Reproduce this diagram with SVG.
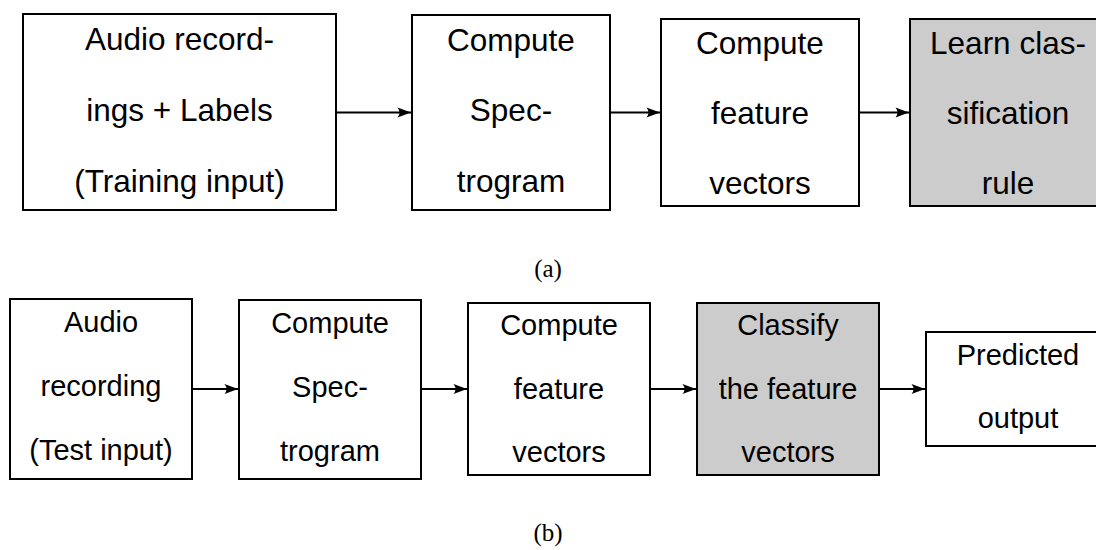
<svg xmlns="http://www.w3.org/2000/svg" width="1096" height="550" viewBox="0 0 1096 550">
<style>
.box{fill:#ffffff;stroke:#000;stroke-width:2}
.gray{fill:#cccccc;stroke:#000;stroke-width:2}
.t{font-family:"Liberation Sans",Arial,sans-serif;font-size:31.5px;text-anchor:middle;fill:#000}
.s{font-family:"Liberation Sans",Arial,sans-serif;font-size:29px;text-anchor:middle;fill:#000}
.cap{font-family:"Liberation Serif","Times New Roman",serif;font-size:25px;text-anchor:middle;fill:#000}
.arr{stroke:#000;stroke-width:2.2;fill:none;marker-end:url(#ah)}
</style>
<defs>
<marker id="ah" markerUnits="userSpaceOnUse" viewBox="-15 -7 16 14" refX="0" refY="0" markerWidth="16" markerHeight="14" orient="auto">
<path d="M0,0 L-13.5,-5 Q-9.5,0 -13.5,5 Z" fill="#000"/>
</marker>
</defs>
<rect width="1096" height="550" fill="#fff"/>
<g id="connectors">
<line class="arr" x1="336" y1="112.5" x2="411" y2="112.5"/>
<line class="arr" x1="610" y1="112.5" x2="660" y2="112.5"/>
<line class="arr" x1="859" y1="112.5" x2="909" y2="112.5"/>
<line class="arr" x1="192" y1="389" x2="238" y2="389"/>
<line class="arr" x1="421" y1="389" x2="467" y2="389"/>
<line class="arr" x1="650" y1="389" x2="696" y2="389"/>
<line class="arr" x1="879" y1="389" x2="925" y2="389"/>
</g>
<g id="a1">
<rect class="box" x="23" y="14" width="313" height="196"/>
<text class="t" x="179.5" y="50">Audio record-</text>
<text class="t" x="179.5" y="121">ings + Labels</text>
<text class="t" x="179.5" y="192">(Training input)</text>
</g>
<g id="a2">
<rect class="box" x="412" y="15" width="198" height="195"/>
<text class="t" x="511" y="51">Compute</text>
<text class="t" x="511" y="121">Spec-</text>
<text class="t" x="511" y="192">trogram</text>
</g>
<g id="a3">
<rect class="box" x="661" y="19" width="198" height="187"/>
<text class="t" x="760" y="54">Compute</text>
<text class="t" x="760" y="124">feature</text>
<text class="t" x="760" y="194">vectors</text>
</g>
<g id="a4">
<rect class="gray" x="910" y="19" width="196" height="187"/>
<text class="t" x="1008" y="54">Learn clas-</text>
<text class="t" x="1008" y="124">sification</text>
<text class="t" x="1008" y="194">rule</text>
</g>
<text class="cap" x="548" y="277">(a)</text>
<g id="b1">
<rect class="box" x="10" y="299" width="182" height="180"/>
<text class="s" x="101" y="332">Audio</text>
<text class="s" x="101" y="396">recording</text>
<text class="s" x="101" y="460">(Test input)</text>
</g>
<g id="b2">
<rect class="box" x="239" y="300" width="182" height="179"/>
<text class="s" x="330" y="333">Compute</text>
<text class="s" x="330" y="397">Spec-</text>
<text class="s" x="330" y="461">trogram</text>
</g>
<g id="b3">
<rect class="box" x="468" y="303" width="182" height="172"/>
<text class="s" x="559" y="335">Compute</text>
<text class="s" x="559" y="399">feature</text>
<text class="s" x="559" y="462">vectors</text>
</g>
<g id="b4">
<rect class="gray" x="697" y="303" width="182" height="172"/>
<text class="s" x="788" y="335">Classify</text>
<text class="s" x="788" y="399">the feature</text>
<text class="s" x="788" y="462">vectors</text>
</g>
<g id="b5">
<rect class="box" x="926" y="332" width="184" height="114"/>
<text class="s" x="1018" y="365">Predicted</text>
<text class="s" x="1018" y="428">output</text>
</g>
<text class="cap" x="548" y="541">(b)</text>
</svg>
